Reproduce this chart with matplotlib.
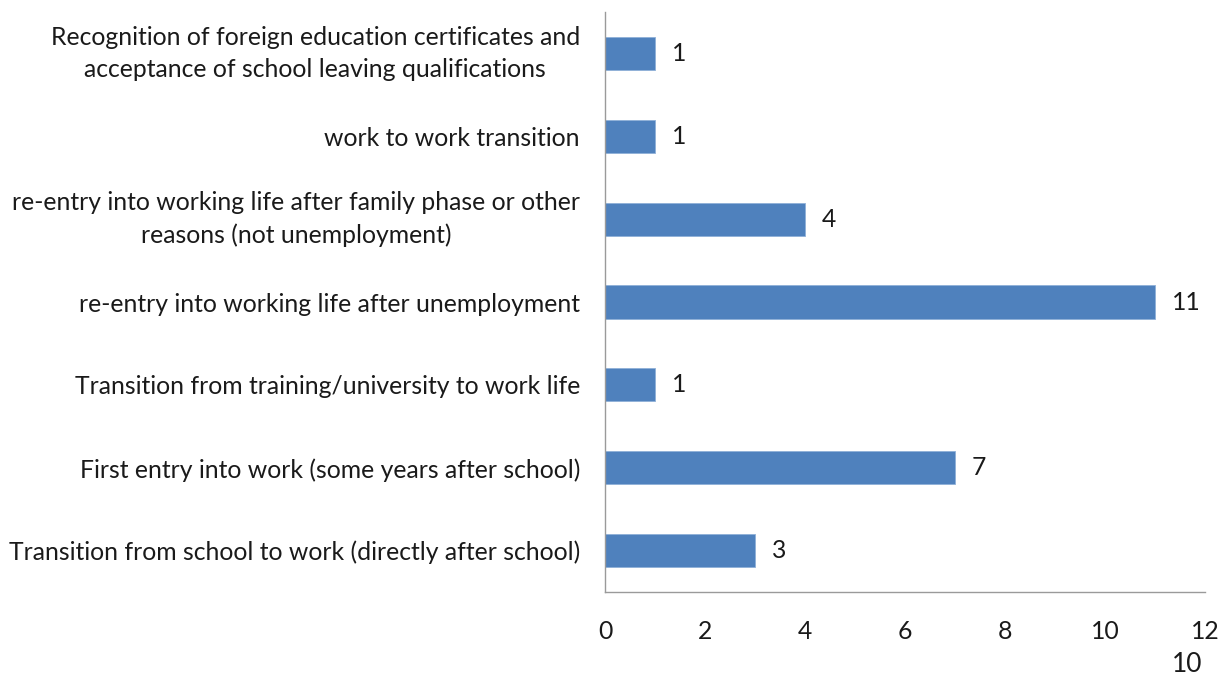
import matplotlib
matplotlib.use("Agg")
import matplotlib.pyplot as plt

plt.rcParams['font.family'] = ['Lato', 'DejaVu Sans']

categories = [
    "Transition from school to work (directly after school)",
    "First entry into work (some years after school)",
    "Transition from training/university to work life",
    "re-entry into working life after unemployment",
    "re-entry into working life after family phase or other\nreasons (not unemployment)",
    "work to work transition",
    "Recognition of foreign education certificates and\nacceptance of school leaving qualifications",
]
values = [3, 7, 1, 11, 4, 1, 1]
x_ticks = [0, 2, 4, 6, 8, 10, 12]
page_number = "10"

bar_color = "#4F81BD"
text_color = "#1a1a1a"
spine_color = "#9a9a9a"

fig = plt.figure(figsize=(12.27, 6.77), dpi=100)
ax = fig.add_axes([605 / 1227, 1 - 592 / 677, 600 / 1227, 580 / 677])

positions = list(range(len(categories)))
bars = ax.barh(positions, values, height=0.4, color=bar_color,
               edgecolor="#8fb0d8", linewidth=0.6)

ax.set_xlim(0, 12)
ax.set_ylim(-0.5, len(categories) - 0.5)
ax.set_xticks(x_ticks)
ax.set_xticklabels([str(t) for t in x_ticks])
ax.set_yticks(positions)
ax.set_yticklabels(categories, multialignment="center", linespacing=1.5)
# two-line labels are centred on their whole block
for lbl in ax.get_yticklabels():
    if "\n" in lbl.get_text():
        lbl.set_verticalalignment("center")

ax.tick_params(axis="x", length=0, pad=20, labelsize=17.8, labelcolor=text_color)
ax.tick_params(axis="y", length=0, pad=18, labelsize=17.8, labelcolor=text_color)

for side in ("top", "right"):
    ax.spines[side].set_visible(False)
for side in ("left", "bottom"):
    ax.spines[side].set_color(spine_color)
    ax.spines[side].set_linewidth(1.0)

for rect, v in zip(bars, values):
    ax.annotate(str(v), (rect.get_width(), rect.get_y() + rect.get_height() / 2),
                xytext=(12, 0), textcoords="offset points", va="center", ha="left",
                fontsize=17.8, color=text_color)

fig.text(1187 / 1227, 1 - 664 / 677, page_number, ha="center", va="center",
         fontsize=19, color=text_color)

fig.savefig("out.png", dpi=100, facecolor="white")
